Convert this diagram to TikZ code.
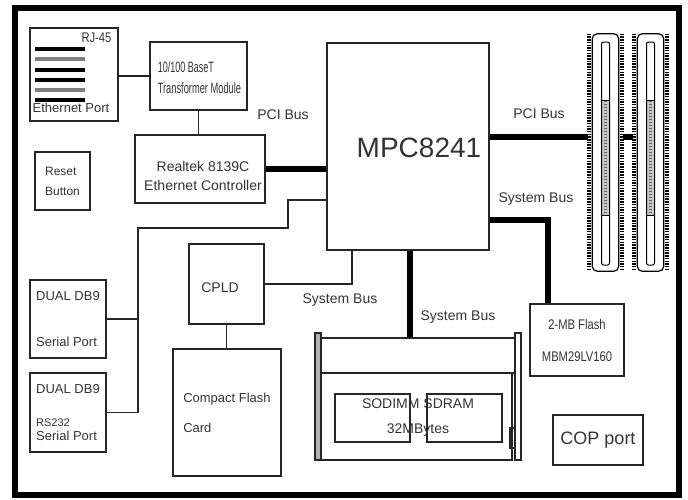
\documentclass[tikz,border=0pt]{standalone}
\usepackage{fontspec}
\setmainfont{Liberation Sans}
\usetikzlibrary{calc}
\newcommand{\fsz}[2]{\fontsize{#1}{#2}\selectfont}
\newcommand{\narrow}[2]{\scalebox{#1}[1]{#2}}

\begin{document}
\begin{tikzpicture}[x=1pt, y=-1pt, line width=1.5pt,
    box/.style={draw=black!85, line width=1.6pt, inner sep=0pt, text=black!80},
    txt/.style={text=black!80, inner sep=0pt},
    wire/.style={line width=1.6pt, draw=black!85},
    bus/.style={line width=5.5pt},
    slot/.style={minimum width=33, minimum height=236, inner sep=0pt},
    pins/.style={line width=4pt, dash pattern=on 1.5pt off 1.2pt}]
  \useasboundingbox (0,0) rectangle (688,499);
  \draw [line width=6pt] (14.5,8) rectangle (679,495);
  \draw [line width=3pt] (12,6.5) -- (681,6.5);

  \node [box, minimum width=88, minimum height=93, name=rj45] at (74,74.5) {};
  \foreach \y/\c in {49/black, 59/gray, 70/black, 80/black, 90/gray, 100/black}
    \draw [line width=4pt, \c] (35,\y) -- (85,\y);
  \node [txt, font=\fsz{14}{15}, name=rjtxt] at (96.5,38) {\narrow{0.8}{RJ-45}};
  \node [txt, font=\fsz{13}{15}, name=ethport] at (71,108) {Ethernet Port};

  \node [box, minimum width=97, minimum height=68, name=xfmr] at (198.5,76) {};
  \node [txt, align=left, font=\fsz{15}{21}, name=xfmrtxt, anchor=west] at (157,78)
    {\narrow{0.6}{10/100 BaseT}\\\narrow{0.62}{Transformer Module}};
  \node [box, minimum width=130, minimum height=68, name=realtek] at (200,169) {};
  \node [txt, align=center, font=\fsz{14}{19}, name=realtxt] at (203,176)
    {Realtek 8139C\\Ethernet Controller};
  \node [box, minimum width=55, minimum height=58, align=left, font=\fsz{12}{14}, name=reset]
    at (62.5,181) {Reset\\[6pt]Button};

  \node [box, minimum width=162, minimum height=207, name=mpc] at (408,146.5) {};
  \node [txt, font=\fsz{28}{30}, name=mpctxt] at (419,148) {MPC8241};

  \node [box, minimum width=76, minimum height=78, align=left, font=\fsz{13}{14}, name=db9a]
    at (68,319) {DUAL DB9\\[32pt]Serial Port};
  \node [box, minimum width=76, minimum height=79, align=left, font=\fsz{13}{14}, name=db9b]
    at (68,412.5) {DUAL DB9\\[19pt]{\fsz{11}{12}RS232}\\Serial Port};

  \node [box, minimum width=75, minimum height=80, name=cpld] at (226.5,284) {};
  \node [txt, font=\fsz{14}{16}, name=cpldtxt] at (220,288) {CPLD};
  \node [box, minimum width=108, minimum height=127, align=left, font=\fsz{13}{14}, name=cf]
    at (227,412.5) {Compact Flash\\[16pt]Card};

  \node [box, minimum width=195, minimum height=35, name=dimmtop] at (417.5,355.5) {};
  \node [box, minimum width=192, minimum height=87, name=dimm] at (416,416.5) {};
  \node [box, minimum width=75, minimum height=48, name=chipa] at (372.5,418) {};
  \node [box, minimum width=75, minimum height=48, name=chipb] at (464.5,418) {};
  \draw [wire, fill=gray!60] (315,333) rectangle (321,460);
  \draw [wire, fill=white] (515,333) rectangle (521,460);
  \draw [wire] (510,428) rectangle (515,448);
  \node [txt, align=center, font=\fsz{14}{17}, name=dimmtxt] at (418,418)
    {SODIMM SDRAM\\[8pt]32MBytes};

  \node [box, minimum width=94, minimum height=72, align=center, font=\fsz{14}{32}, name=flash]
    at (577,340) {\narrow{0.8}{2-MB Flash}\\\narrow{0.8}{MBM29LV160}};
  \node [box, minimum width=90, minimum height=50, font=\fsz{18}{20}, name=cop] at (598,440) {COP port};

  \foreach \n/\x in {1/605.5, 2/650.5} {
    \node [slot, name=slot\n] at (\x,152.5) {};
    \draw [pins] ([xshift=1pt]slot\n.north west) -- ([xshift=1pt]slot\n.south west);
    \draw [pins] ([xshift=-1pt]slot\n.north east) -- ([xshift=-1pt]slot\n.south east);
    \draw [line width=1.2pt, rounded corners=5pt] ([xshift=4pt]slot\n.north west) rectangle ([xshift=-4pt]slot\n.south east);
    \draw [line width=1pt, fill=gray!45] (\x-4,100) rectangle (\x+4,215);
    \draw [line width=2.5pt, gray!80!black, dash pattern=on 1pt off 2pt] (\x,101) -- (\x,214);
    \draw [line width=1pt, rounded corners=2pt] (\x-4,42) rectangle (\x+4,265);
  }

  \node [txt, font=\fsz{14}{16}, name=pcil] at (283,115) {PCI Bus};
  \node [txt, font=\fsz{14}{16}, name=pcir] at (539,114) {PCI Bus};
  \node [txt, font=\fsz{14}{16}, name=sysr] at (536,199) {System Bus};
  \node [txt, font=\fsz{14}{16}, name=sysl] at (340,300) {System Bus};
  \node [txt, font=\fsz{14}{16}, name=sysm] at (458,317) {System Bus};

  \coordinate (lbus) at (288,200);
  \coordinate (lsplit) at (138,228);
  \coordinate (cbus) at (352,284);
  \coordinate (mbus) at (410,300);
  \coordinate (fbus) at (548,220);
  \coordinate (pbus) at (600,137);

  \draw [wire] (rj45.east |- xfmr.west) -- (xfmr.west);
  \draw [wire] (xfmr.south) -- (xfmr.south |- realtek.north);
  \draw [bus] (realtek.east) -- (realtek.east -| mpc.west);
  \draw [wire] (lbus -| mpc.west) -- (lbus) |- (lsplit) -- (lsplit |- db9b.east) -- (db9b.east);
  \draw [wire] (db9a.east) -- (db9a.east -| lsplit);
  \draw [wire] (cpld.east) -- (cpld.east -| cbus) -- (cbus |- mpc.south);
  \draw [wire] (cpld.south) -- (cpld.south |- cf.north);
  \draw [bus] (mbus |- mpc.south) -- (mbus |- dimmtop.north);
  \draw [bus] (fbus -| mpc.east) -- (fbus) -- (fbus |- flash.north);
  \draw [bus] (pbus -| mpc.east) -- (pbus -| slot1.west);
  \draw [bus] (pbus -| slot1.east) -- (pbus -| slot2.west);
\end{tikzpicture}
\end{document}
